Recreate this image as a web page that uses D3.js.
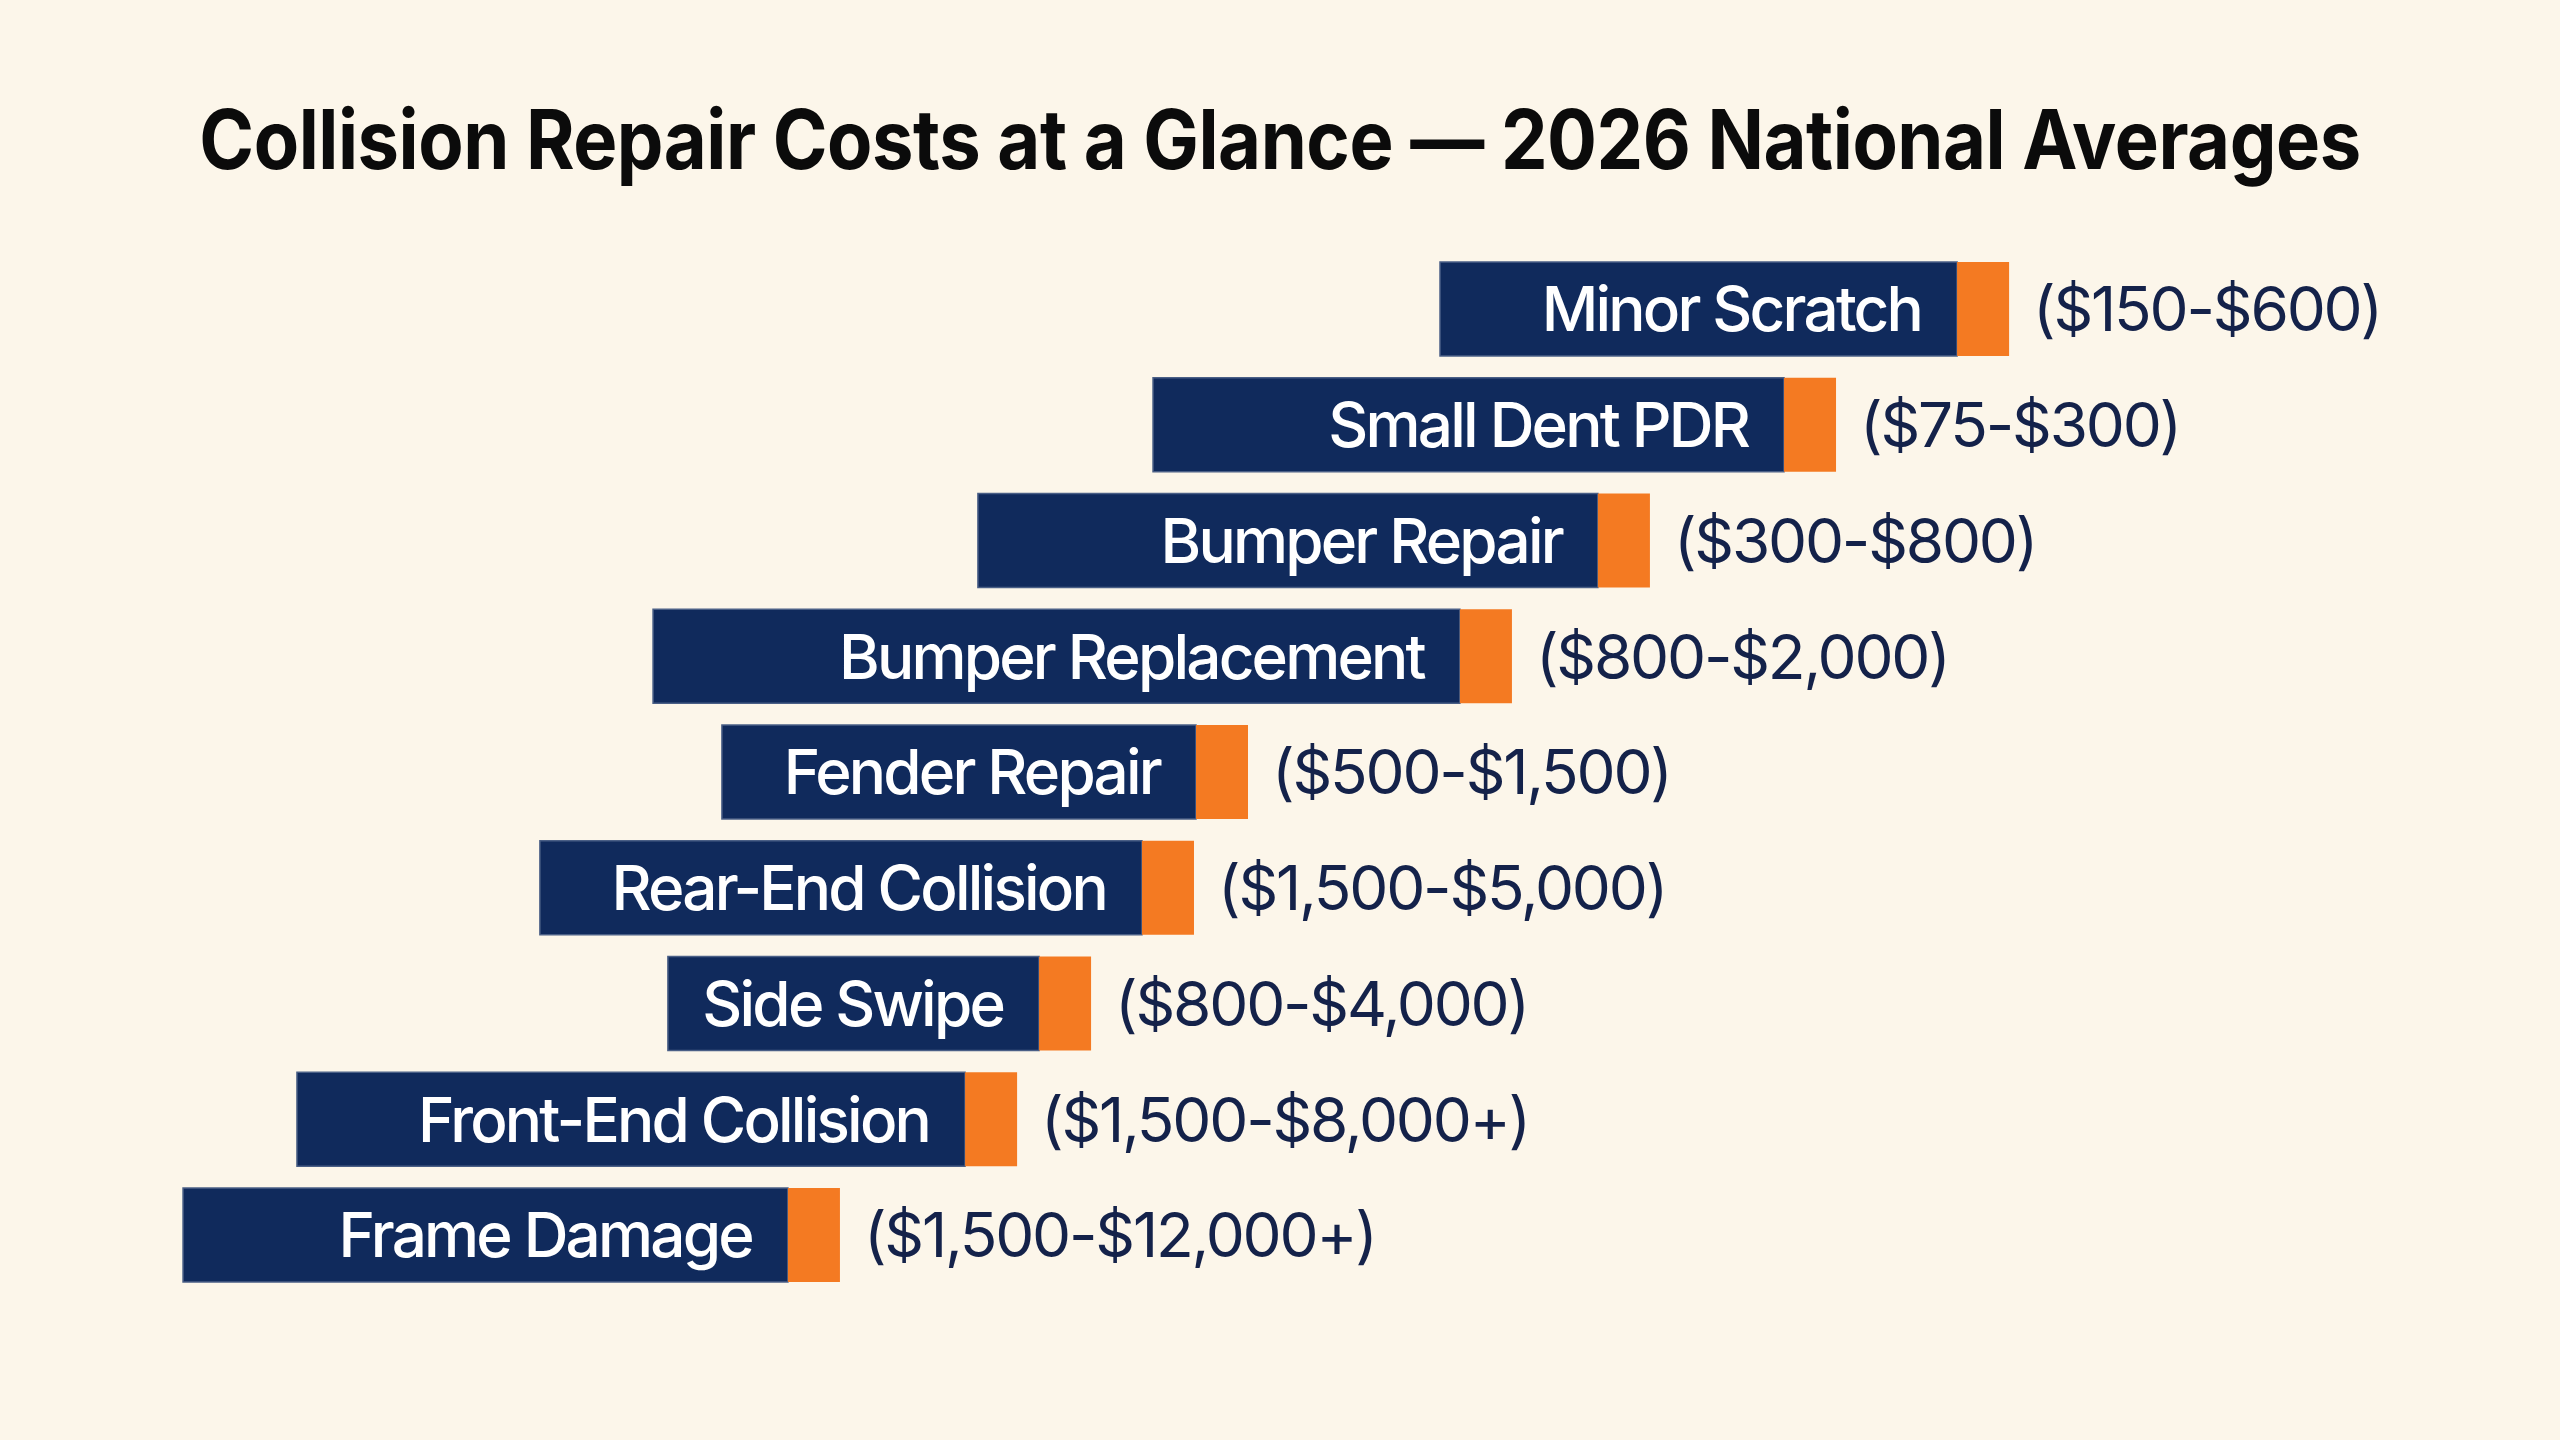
<!DOCTYPE html>
<html>
<head>
<meta charset="utf-8">
<script src="https://cdn.jsdelivr.net/npm/d3@7/dist/d3.min.js"></script>
<style>
  html, body { margin: 0; padding: 0; background: #fcf6ea; }
  svg { display: block; }
</style>
</head>
<body>
<svg id="chart" width="2560" height="1440"></svg>
<script>
// ---- data ----
const categories = [
  "Minor Scratch", "Small Dent PDR", "Bumper Repair", "Bumper Replacement",
  "Fender Repair", "Rear-End Collision", "Side Swipe", "Front-End Collision", "Frame Damage"
];
const rangeLabels = [
  "($150-$600)", "($75-$300)", "($300-$800)", "($800-$2,000)",
  "($500-$1,500)", "($1,500-$5,000)", "($800-$4,000)", "($1,500-$8,000+)", "($1,500-$12,000+)"
];
// bar extents on the chart's 0–100 positional index
const barStart = [56.25, 45.04, 38.20, 25.51, 28.20, 21.09, 26.09, 11.60, 7.15];
const barEnd   = [78.48, 71.72, 64.45, 59.06, 48.75, 46.64, 42.62, 39.73, 32.81];
const title = "Collision Repair Costs at a Glance \u2014 2026 National Averages";

const rows = categories.map((c, i) => ({
  category: c, range: rangeLabels[i], start: barStart[i], end: barEnd[i]
}));

// ---- layout / style ----
const W = 2560, H = 1440;
const navy = "#102a5c", orange = "#f47a22", textDark = "#14224a";
const tipW = 52;
const font = "Inter, 'Noto Sans', 'Liberation Sans', sans-serif";

const svg = d3.select("#chart");
svg.append("rect").attr("width", W).attr("height", H).attr("fill", "#fcf6ea");

const x = d3.scaleLinear().domain([0, 100]).range([0, W]);
const y = d3.scaleBand().domain(categories).range([262, 1282]).paddingInner(0.188).paddingOuter(0);

// title (glyphs condensed horizontally to the reference's width)
const tg = svg.append("g");
const t = tg.append("text")
  .attr("x", 0).attr("y", 0)
  .attr("text-anchor", "middle")
  .attr("font-family", font).attr("font-weight", 700)
  .attr("font-size", 82).attr("letter-spacing", -0.5).attr("fill", "#0b0b0b")
  .text(title);
const tw = t.node().getComputedTextLength();
const sx = Math.min(1, 2162 / tw);
tg.attr("transform", `translate(${W / 2},169) scale(${sx.toFixed(4)},1)`);

const g = svg.append("g");
const bar = g.selectAll("g.bar").data(rows).join("g").attr("class", "bar");

// navy body
bar.append("rect")
  .attr("x", d => x(d.start))
  .attr("y", d => y(d.category))
  .attr("width", d => x(d.end) - x(d.start) - tipW)
  .attr("height", y.bandwidth())
  .attr("fill", navy)
  .attr("stroke", "#4a5f86").attr("stroke-width", 1.5);

// orange tip
bar.append("rect")
  .attr("x", d => x(d.end) - tipW)
  .attr("y", d => y(d.category))
  .attr("width", tipW)
  .attr("height", y.bandwidth())
  .attr("fill", orange);

// category label inside bar
bar.append("text")
  .attr("x", d => x(d.end) - tipW - 36)
  .attr("y", d => y(d.category) + y.bandwidth() / 2)
  .attr("dy", "0.36em")
  .attr("text-anchor", "end")
  .attr("font-family", font).attr("font-weight", 500)
  .attr("font-size", 62).attr("letter-spacing", -2.8)
  .attr("fill", "#ffffff")
  .text(d => d.category);

// range label
bar.append("text")
  .attr("x", d => x(d.end) + 24)
  .attr("y", d => y(d.category) + y.bandwidth() / 2)
  .attr("dy", "0.36em")
  .attr("text-anchor", "start")
  .attr("font-family", font).attr("font-weight", 400)
  .attr("font-size", 62).attr("letter-spacing", -2.2)
  .attr("fill", textDark)
  .text(d => d.range);
</script>
</body>
</html>
